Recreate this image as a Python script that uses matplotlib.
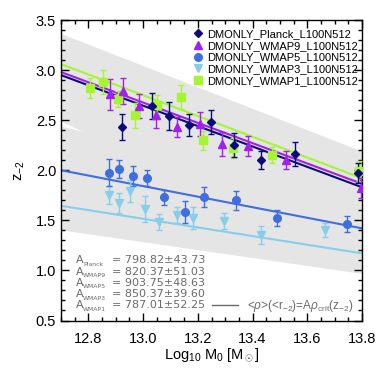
import matplotlib
matplotlib.use("Agg")
import matplotlib.pyplot as plt
import numpy as np
from matplotlib.lines import Line2D

plt.rcParams['font.family'] = ['Liberation Sans', 'DejaVu Sans']
plt.rcParams['mathtext.fontset'] = 'custom'
plt.rcParams['mathtext.rm'] = 'Liberation Sans'
plt.rcParams['mathtext.it'] = 'Liberation Sans:italic'
plt.rcParams['mathtext.bf'] = 'Liberation Sans:bold'

# ---------------- data ----------------
labels = ["DMONLY_Planck_L100N512", "DMONLY_WMAP9_L100N512", "DMONLY_WMAP5_L100N512",
          "DMONLY_WMAP3_L100N512", "DMONLY_WMAP1_L100N512"]
colors = ["#0b0b7a", "#a020f0", "#3f6ee0", "#87ceeb", "#a6f531"]
markers = ["D", "^", "o", "v", "s"]
msizes = [4.0, 5.5, 5.5, 5.5, 5.5]

planck_x = [12.923, 13.031, 13.093, 13.168, 13.250, 13.331, 13.432, 13.554, 13.785]
planck_y = [2.43, 2.645, 2.54, 2.455, 2.48, 2.255, 2.10, 2.16, 1.97]
planck_e = [0.13, 0.13, 0.14, 0.11, 0.12, 0.12, 0.09, 0.12, 0.10]

wmap9_x = [12.879, 12.925, 12.985, 13.049, 13.124, 13.207, 13.287, 13.384, 13.521, 13.796]
wmap9_y = [2.76, 2.79, 2.64, 2.55, 2.435, 2.465, 2.26, 2.245, 2.10, 1.82]
wmap9_e = [0.155, 0.13, 0.12, 0.125, 0.10, 0.12, 0.12, 0.10, 0.09, 0.10]

wmap5_x = [12.874, 12.913, 12.962, 13.015, 13.077, 13.153, 13.223, 13.339, 13.490, 13.745]
wmap5_y = [1.975, 2.01, 1.945, 1.92, 1.73, 1.58, 1.735, 1.70, 1.52, 1.465]
wmap5_e = [0.137, 0.09, 0.10, 0.08, 0.075, 0.11, 0.10, 0.095, 0.08, 0.08]

wmap3_x = [12.874, 12.913, 12.952, 13.008, 13.059, 13.124, 13.182, 13.295, 13.432, 13.663]
wmap3_y = [1.755, 1.67, 1.795, 1.615, 1.48, 1.55, 1.52, 1.495, 1.355, 1.405]
wmap3_e = [0.087, 0.10, 0.11, 0.13, 0.08, 0.08, 0.11, 0.08, 0.09, 0.07]

wmap1_x = [12.807, 12.854, 12.909, 12.972, 13.050, 13.137, 13.220, 13.329, 13.472, 13.790]
wmap1_y = [2.825, 2.88, 2.715, 2.55, 2.655, 2.73, 2.30, 2.22, 2.155, 1.99]
wmap1_e = [0.10, 0.12, 0.08, 0.125, 0.10, 0.12, 0.095, 0.10, 0.08, 0.10]

# fit lines, evaluated at the axis ends
fit_x = [12.7, 13.8]
fit_planck = [2.95, 1.83]
fit_wmap9 = [2.98, 1.865]
fit_wmap5 = [2.00, 1.42]
fit_wmap3 = [1.645, 1.17]
fit_wmap1 = [3.06, 1.92]

# shaded scatter bands
band_x = [12.7, 13.8]
band1_hi = [3.365, 2.19]
band1_lo = [2.49, 1.10]
band2_hi = [2.44, 1.745]
band2_lo = [1.405, 0.97]

A_names = ["Planck", "WMAP9", "WMAP5", "WMAP3", "WMAP1"]
A_vals = ["798.82", "820.37", "903.75", "850.37", "787.01"]
A_errs = ["43.73", "51.03", "48.63", "39.60", "52.25"]

xs = [planck_x, wmap9_x, wmap5_x, wmap3_x, wmap1_x]
ys = [planck_y, wmap9_y, wmap5_y, wmap3_y, wmap1_y]
es = [planck_e, wmap9_e, wmap5_e, wmap3_e, wmap1_e]
fits = [fit_planck, fit_wmap9, fit_wmap5, fit_wmap3, fit_wmap1]

# ---------------- plot ----------------
fig = plt.figure(figsize=(3.82, 3.82), dpi=100)
ax = fig.add_axes([61/382, 1-320.5/382, 301/382, 300.5/382])

gray = "#e5e5e5"
ax.fill_between(band_x, band1_lo, band1_hi, color=gray, lw=0, zorder=0)
ax.fill_between(band_x, band2_lo, band2_hi, color=gray, lw=0, zorder=0)

for i in [3, 2, 4, 1, 0]:
    ax.plot(fit_x, fits[i], color=colors[i], lw=1.5, zorder=2)

for i in [3, 2, 4, 1, 0]:
    ax.errorbar(xs[i], ys[i], yerr=es[i], fmt=markers[i], color=colors[i],
                ms=msizes[i], mec=colors[i], ecolor=colors[i], elinewidth=1.0,
                capsize=2.2, capthick=1.0, zorder=3)

leg_handles = [Line2D([], [], ls='none', marker=markers[i], color=colors[i],
                      ms=msizes[i]) for i in range(5)]
ax.legend(leg_handles, labels, loc='upper right', frameon=False, fontsize=8,
          handlelength=0.6, handletextpad=0.5, labelspacing=0.16,
          borderaxespad=0.0, bbox_to_anchor=(1.0, 0.985))

ax.set_xlim(12.7, 13.8)
ax.set_ylim(0.5, 3.5)
ax.set_xticks([12.8, 13.0, 13.2, 13.4, 13.6, 13.8])
ax.set_xticks(np.arange(12.7, 13.801, 0.05), minor=True)
ax.set_yticks([0.5, 1.0, 1.5, 2.0, 2.5, 3.0, 3.5])
ax.set_yticks(np.arange(0.5, 3.501, 0.1), minor=True)
ax.tick_params(which='both', direction='in', top=True, right=True, labelsize=10.5,
               width=1.0)
ax.tick_params(which='major', length=6)
ax.tick_params(which='minor', length=3)
ax.tick_params(axis='x', pad=8)
for s in ax.spines.values():
    s.set_linewidth(1.0)

ax.set_xlabel(r"Log$_{10}$ M$_0$ [M$_\odot$]", fontsize=10.5, labelpad=1)
ax.set_ylabel(r"z$_{-2}$", fontsize=10.5, labelpad=6)

tcol = "#6a6a6a"
n = len(A_names)
a_txt = "\n".join("A" for _ in range(n))
vals_txt = "\n".join("= %s\u00b1%s" % (v, e) for v, e in zip(A_vals, A_errs))
last_base = 0.0406          # baseline of the last row (axes fraction)
pitch = 11.2 / 300.5        # row pitch (axes fraction)
ls_main = 1.153
fs_main = 8.0
ax.text(0.05, last_base, a_txt, transform=ax.transAxes, fontsize=fs_main, color=tcol,
        va='baseline', ha='left', linespacing=ls_main, family='DejaVu Sans')
ax.text(0.17, last_base, vals_txt, transform=ax.transAxes, fontsize=fs_main, color=tcol,
        va='baseline', ha='left', linespacing=ls_main, family='DejaVu Sans')
for k in range(n):
    ax.text(0.074, last_base + (n - 1 - k) * pitch - 0.008, A_names[k],
            transform=ax.transAxes, fontsize=4.4, color=tcol, va='baseline',
            ha='left', family='DejaVu Sans')
ax.plot([0.502, 0.588], [0.052, 0.052], transform=ax.transAxes, color=tcol, lw=1.0)
ax.text(0.618, 0.048, r"<$\rho$>(<r$_{-2}$)=A$\rho_{\rm crit}$(z$_{-2}$)",
        transform=ax.transAxes, fontsize=8.5, color=tcol, va='center', ha='left',
        clip_on=True)

fig.savefig("out.png", dpi=100)
